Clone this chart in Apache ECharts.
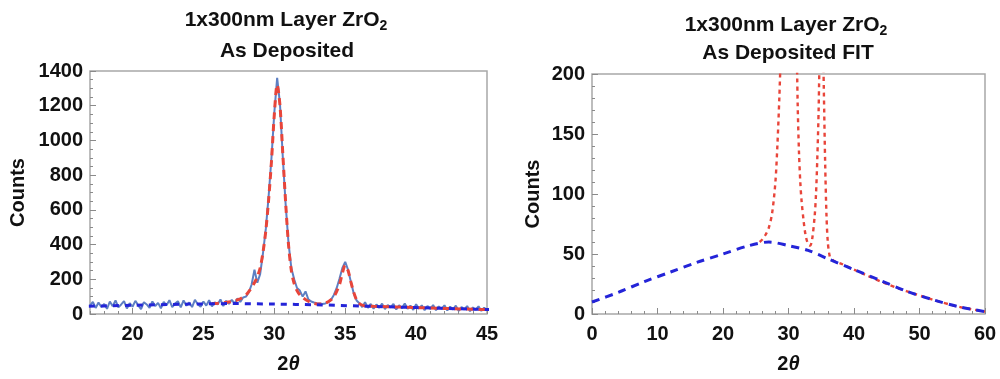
<!DOCTYPE html>
<html>
<head>
<meta charset="utf-8">
<script src="https://cdn.jsdelivr.net/npm/echarts@6/dist/echarts.min.js"></script>
<style>
  html, body { margin: 0; padding: 0; background: #fff; }
  #chart { width: 1000px; height: 379px; }
</style>
</head>
<body>
<div id="chart"></div>
<script>
// measured scan: 2θ from 17° to 45°, one reading every 0.2°
const scanStart = 17
const scanStep = 0.2
const counts = [
  48, 70, 35, 66, 40, 58, 30, 72, 45, 78,
  38, 55, 74, 32, 62, 42, 76, 50, 28, 68,
  55, 36, 72, 46, 64, 33, 70, 50, 80, 40,
  60, 74, 38, 78, 48, 66, 40, 82, 56, 42,
  72, 48, 80, 44, 68, 55, 84, 46, 76, 58,
  82, 60, 90, 70, 95, 100, 125, 170, 255, 180,
  230, 350, 490, 680, 900, 1160, 1360, 1210, 900, 630,
  410, 265, 200, 150, 135, 100, 130, 85, 72, 66,
  62, 60, 58, 61, 68, 82, 110, 150, 205, 265,
  300, 255, 185, 120, 78, 62, 40, 68, 35, 58,
  30, 55, 36, 60, 28, 52, 38, 58, 26, 50,
  34, 60, 30, 48, 24, 56, 32, 50, 22, 46,
  30, 52, 22, 44, 28, 50, 20, 42, 26, 48,
  18, 40, 26, 46, 16, 38, 24, 44, 18, 36,
  22
]

// fitted curve (peaks + background)
const fitAngles = [25.6, 26, 26.5, 27, 27.5, 28, 28.3, 28.6, 28.8, 29, 29.2, 29.4, 29.6, 29.8, 30, 30.2, 30.4, 30.6, 30.8, 31,
  31.2, 31.4, 31.6, 31.8, 32, 32.3, 32.6, 33, 33.3, 33.6, 34, 34.2, 34.4, 34.6, 34.8, 35, 35.2, 35.4, 35.6, 35.8,
  36, 36.3, 36.6, 37, 38, 40, 42, 45, 48, 52, 56, 60]
const fitCounts = [60, 62, 66, 72, 84, 110, 140, 180, 215, 265, 355, 480, 660, 880, 1150, 1320, 1200, 920, 640, 400,
  250, 175, 135, 110, 94, 78, 66, 58, 57, 62, 82, 100, 130, 170, 235, 280, 250, 185, 125, 82,
  60, 48, 46, 44, 42, 37, 32, 25, 19, 12, 6, 2]

// fitted background
const bgAngles = [0, 4, 8, 12, 16, 20, 24, 27, 30, 33, 36, 40, 44, 48, 52, 56, 60]
const bgCounts = [10, 18, 27, 35, 43, 50, 57, 60, 57, 53, 46, 37, 28, 19, 12, 6, 2]

const titleLine1 = '1x300nm Layer ZrO{sub|2}'
const leftSubtitle = 'As Deposited'
const rightSubtitle = 'As Deposited FIT'

const zip = (xs, ys) => xs.map((x, i) => [x, ys[i]])
const scanData = counts.map((c, i) => [+(scanStart + i * scanStep).toFixed(1), c])

const font = '"Liberation Sans", Arial, sans-serif'
const labelStyle = { fontSize: 20, fontWeight: 'bold', color: '#111', fontFamily: font }
const tickColor = '#8a8a8a'
const frame = { show: true, borderColor: '#a8a8a8', borderWidth: 1.5, backgroundColor: 'transparent' }
const plain = v => String(v)

const majorTick = { inside: true, length: 6, lineStyle: { color: tickColor, width: 1 } }
const minorTick = (n) => ({ show: true, splitNumber: n, length: 3, lineStyle: { color: tickColor, width: 1 } })

const xName = {
  name: '2{i|θ}',
  nameLocation: 'middle',
  nameTextStyle: { ...labelStyle, rich: { i: { ...labelStyle, fontStyle: 'italic' } } }
}
const yName = { name: 'Counts', nameLocation: 'middle', nameRotate: 90, nameTextStyle: labelStyle }

const titleText = (x, y, text) => ({
  type: 'text', x, y,
  style: {
    text, align: 'center', verticalAlign: 'middle',
    fontSize: 21, fontWeight: 'bold', fontFamily: font, fill: '#111', lineHeight: 26,
    rich: { sub: { fontSize: 14, fontWeight: 'bold', fontFamily: font, fill: '#111', verticalAlign: 'bottom', lineHeight: 14 } }
  }
})

const chart = echarts.init(document.getElementById('chart'))

chart.setOption({
  backgroundColor: '#fff',
  animation: false,
  graphic: [
    titleText(286, 20, titleLine1),
    titleText(287, 51, leftSubtitle),
    titleText(786, 25, titleLine1),
    titleText(788, 53, rightSubtitle)
  ],
  grid: [
    { ...frame, left: 90, top: 71, width: 397, height: 245 },
    { ...frame, left: 592, top: 74, width: 393, height: 243 }
  ],
  xAxis: [
    {
      gridIndex: 0, type: 'value', min: 17, max: 45,
      axisLine: { show: false, onZero: false }, axisTick: majorTick, splitLine: { show: false },
      axisLabel: { ...labelStyle, margin: 10, showMinLabel: false, formatter: plain },
      ...xName, nameGap: 40
    },
    {
      // minor ticks every 1°
      gridIndex: 0, type: 'value', min: 17, max: 45, interval: 1, position: 'bottom',
      axisLine: { show: false, onZero: false }, axisTick: { inside: true, length: 3, lineStyle: { color: tickColor } },
      axisLabel: { show: false }, splitLine: { show: false }
    },
    {
      gridIndex: 1, type: 'value', min: 0, max: 60, interval: 10,
      axisLine: { show: false, onZero: false }, axisTick: majorTick, minorTick: minorTick(5), splitLine: { show: false },
      axisLabel: { ...labelStyle, margin: 10, formatter: plain },
      ...xName, nameGap: 40
    }
  ],
  yAxis: [
    {
      gridIndex: 0, type: 'value', min: 0, max: 1400, interval: 200,
      axisLine: { show: false }, axisTick: majorTick, minorTick: minorTick(4), splitLine: { show: false },
      axisLabel: { ...labelStyle, margin: 7, formatter: plain },
      ...yName, nameGap: 62
    },
    {
      gridIndex: 1, type: 'value', min: 0, max: 200, interval: 50,
      axisLine: { show: false }, axisTick: majorTick, minorTick: minorTick(5), splitLine: { show: false },
      axisLabel: { ...labelStyle, margin: 7, formatter: plain },
      ...yName, nameGap: 49
    }
  ],
  series: [
    {
      name: 'data', type: 'line', xAxisIndex: 0, yAxisIndex: 0, showSymbol: false,
      lineStyle: { color: '#5d7fc3', width: 2 }, data: scanData, z: 1
    },
    {
      name: 'fit', type: 'line', xAxisIndex: 0, yAxisIndex: 0, showSymbol: false, smooth: 0.3,
      lineStyle: { color: '#e8453a', width: 3, type: [7, 5] }, data: zip(fitAngles, fitCounts), z: 2
    },
    {
      name: 'background', type: 'line', xAxisIndex: 0, yAxisIndex: 0, showSymbol: false, smooth: 0.3,
      lineStyle: { color: '#2424d8', width: 3, type: [6, 6] }, data: zip(bgAngles, bgCounts), z: 3
    },
    {
      name: 'fit', type: 'line', xAxisIndex: 2, yAxisIndex: 1, showSymbol: false, smooth: 0.3,
      lineStyle: { color: '#e8453a', width: 2.4, type: [4, 4] }, data: zip(fitAngles, fitCounts), z: 2
    },
    {
      name: 'background', type: 'line', xAxisIndex: 2, yAxisIndex: 1, showSymbol: false, smooth: 0.3,
      lineStyle: { color: '#2424d8', width: 3, type: [8, 6] }, data: zip(bgAngles, bgCounts), z: 3
    }
  ]
})

window.addEventListener('resize', () => chart.resize())
</script>
</body>
</html>
